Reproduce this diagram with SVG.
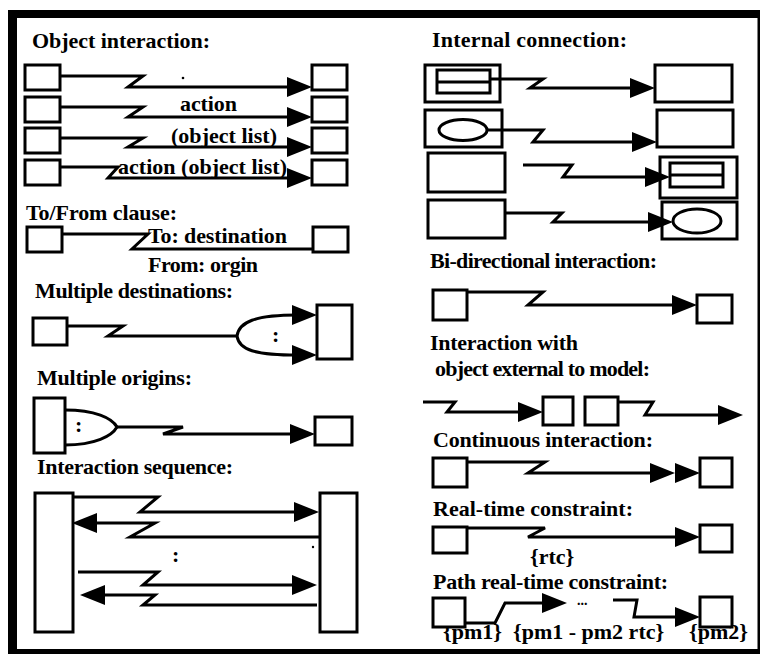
<svg xmlns="http://www.w3.org/2000/svg" width="763" height="659" viewBox="0 0 763 659">
<defs>
<style>
.t{font-family:"Liberation Serif","Times New Roman",serif;font-weight:bold;font-size:22px;fill:#000}
.b{fill:#fff;stroke:#000;stroke-width:3}
.n{fill:none;stroke:#000;stroke-width:3}
.c{fill:none;stroke:#000;stroke-width:3;stroke-linejoin:miter}
.f{fill:#000}
</style>
<path id="ah" d="M-25,-10 L0,0 L-25,10 Z" fill="#000"/>
</defs>
<rect width="763" height="659" fill="#fff"/>
<g id="frame">
<rect x="8" y="10" width="9" height="643" class="f"/>
<rect x="8" y="10" width="752" height="8" class="f"/>
<rect x="757.5" y="10" width="2.5" height="643" class="f"/>
<rect x="8" y="649" width="752" height="5" class="f"/>
</g>
<g id="labels">
<text class="t" x="32" y="48" textLength="178">Object interaction:</text>
<text class="t" x="180" y="111" textLength="57">action</text>
<text class="t" x="171" y="143" textLength="106">(object list)</text>
<text class="t" x="118" y="174" textLength="169">action (object list)</text>
<text class="t" x="26" y="220" textLength="151">To/From clause:</text>
<text class="t" x="148" y="243" textLength="139">To: destination</text>
<text class="t" x="148" y="272" textLength="110">From: orgin</text>
<text class="t" x="35" y="298" textLength="198">Multiple destinations:</text>
<text class="t" x="272" y="342">:</text>
<text class="t" x="37" y="385" textLength="155">Multiple origins:</text>
<text class="t" x="75" y="432">:</text>
<text class="t" x="37" y="474" textLength="196">Interaction sequence:</text>
<text class="t" x="172" y="562">:</text>
<text class="t" x="432" y="47" textLength="195">Internal connection:</text>
<text class="t" x="430" y="268" textLength="227">Bi-directional interaction:</text>
<text class="t" x="430" y="350" textLength="148">Interaction with</text>
<text class="t" x="435" y="376" textLength="215">object external to model:</text>
<text class="t" x="433" y="447" textLength="220">Continuous interaction:</text>
<text class="t" x="433" y="516" textLength="200">Real-time constraint:</text>
<text class="t" x="530" y="564">{rtc}</text>
<text class="t" x="433" y="589" textLength="235">Path real-time constraint:</text>
<text class="t" x="577" y="605" style="font-size:14px">...</text>
<text class="t" x="443" y="639">{pm1}</text>
<text class="t" x="513" y="639">{pm1 - pm2 rtc}</text>
<text class="t" x="748" y="639" text-anchor="end">{pm2}</text>
</g>
<g id="oi-a1"><rect class="b" x="25" y="65" width="35" height="25"/></g>
<g id="oi-b1"><rect class="b" x="312" y="65" width="35" height="25"/></g>
<g id="oi-a2"><rect class="b" x="25" y="97" width="35" height="25"/></g>
<g id="oi-b2"><rect class="b" x="312" y="97" width="35" height="25"/></g>
<g id="oi-a3"><rect class="b" x="25" y="128" width="35" height="25"/></g>
<g id="oi-b3"><rect class="b" x="312" y="128" width="35" height="25"/></g>
<g id="oi-a4"><rect class="b" x="25" y="160" width="35" height="25"/></g>
<g id="oi-b4"><rect class="b" x="312" y="160" width="35" height="25"/></g>
<g id="tf-a"><rect class="b" x="27" y="227" width="35" height="25"/></g>
<g id="tf-b"><rect class="b" x="313" y="227" width="35" height="25"/></g>
<g id="md-a"><rect class="b" x="33" y="318" width="34" height="27"/></g>
<g id="md-b"><rect class="b" x="317" y="305" width="35" height="54"/></g>
<g id="mo-a"><rect class="b" x="34" y="398" width="31" height="55"/></g>
<g id="mo-b"><rect class="b" x="315" y="417" width="37" height="28"/></g>
<g id="is-a"><rect class="b" x="35" y="493" width="38" height="139"/></g>
<g id="is-b"><rect class="b" x="320" y="493" width="37" height="139"/></g>
<g id="ic-a1"><rect class="b" x="425" y="65" width="75" height="37"/><rect class="n" x="437" y="70" width="53" height="23"/><line class="n" x1="437" y1="82" x2="490" y2="82"/></g>
<g id="ic-b1"><rect class="b" x="655" y="65" width="77" height="37"/></g>
<g id="ic-a2"><rect class="b" x="425" y="110" width="77" height="37"/><ellipse class="n" cx="463" cy="130" rx="24" ry="10.5"/></g>
<g id="ic-b2"><rect class="b" x="657" y="110" width="76" height="37"/></g>
<g id="ic-a3"><rect class="b" x="428" y="153" width="77" height="39"/></g>
<g id="ic-b3"><rect class="b" x="660" y="157" width="77" height="41"/><rect class="n" x="670" y="163" width="53" height="24"/><line class="n" x1="670" y1="175" x2="723" y2="175"/></g>
<g id="ic-a4"><rect class="b" x="428" y="200" width="77" height="38"/></g>
<g id="ic-b4"><rect class="b" x="662" y="202" width="75" height="37"/><ellipse class="n" cx="697" cy="221" rx="24" ry="12"/></g>
<g id="bd-a"><rect class="b" x="433" y="290" width="34" height="30"/></g>
<g id="bd-b"><rect class="b" x="697" y="295" width="35" height="28"/></g>
<g id="ex-a"><rect class="b" x="543" y="397" width="30" height="28"/></g>
<g id="ex-b"><rect class="b" x="585" y="397" width="33" height="28"/></g>
<g id="ci-a"><rect class="b" x="433" y="458" width="34" height="29"/></g>
<g id="ci-b"><rect class="b" x="700" y="458" width="32" height="29"/></g>
<g id="rt-a"><rect class="b" x="433" y="527" width="34" height="26"/></g>
<g id="rt-b"><rect class="b" x="700" y="525" width="32" height="27"/></g>
<g id="pr-a"><rect class="b" x="433" y="598" width="32" height="29"/></g>
<g id="pr-b"><rect class="b" x="700" y="597" width="32" height="30"/></g>
<g id="connectors">
<circle cx="183" cy="78" r="1.3" class="f"/>
<circle cx="313" cy="547" r="1.2" class="f"/>
<path class="c" d="M60,76 H143 L128,87 H292"/><use href="#ah" x="312" y="87"/>
<path class="c" d="M60,107 H143 L128,117 H292"/><use href="#ah" x="312" y="117"/>
<path class="c" d="M60,138 H143 L128,147 H292"/><use href="#ah" x="312" y="147"/>
<path class="c" d="M60,167 H118 L108,178 H292"/><use href="#ah" x="312" y="178"/>
<path class="c" d="M62,234 H148 L132,249 H313"/>
<path class="c" d="M67,326 H123 L108,336 H237"/>
<path class="c" d="M237,336 C239,322 255,315 297,315"/><use href="#ah" x="317" y="315"/>
<path class="c" d="M237,336 C239,350 255,355 297,355"/><use href="#ah" x="317" y="355"/>
<path class="c" d="M65,410 C95,410 112,418 117,427 C112,436 95,445 65,445"/>
<path class="c" d="M117,427 H183 L163,434 H295"/><use href="#ah" x="315" y="434"/>
<path class="c" d="M73,497 H158 L140,512 H299"/><use href="#ah" x="319" y="512"/>
<path class="c" d="M320,537 H130 L155,523 H92"/><use href="#ah" transform="translate(72,523) scale(-1,1)"/>
<path class="c" d="M78,572 H158 L143,585 H297"/><use href="#ah" x="317" y="585"/>
<path class="c" d="M317,605 H143 L155,595 H100"/><use href="#ah" transform="translate(80,595) scale(-1,1)"/>
<path class="c" d="M490,79 H543 L530,88 H635"/><use href="#ah" x="655" y="88"/>
<path class="c" d="M487,130 H543 L533,142 H637"/><use href="#ah" x="657" y="142"/>
<path class="c" d="M523,165 H572 L563,177 H650"/><use href="#ah" x="670" y="177"/>
<path class="c" d="M505,213 H562 L553,222 H653"/><use href="#ah" x="673" y="222"/>
<path class="c" d="M467,292 H543 L528,305 H677"/><use href="#ah" x="697" y="305"/>
<path class="c" d="M423,402 H455 L447,412 H523"/><use href="#ah" x="543" y="412"/>
<path class="c" d="M618,402 H653 L645,415 H723"/><use href="#ah" x="743" y="415"/>
<path class="c" d="M467,462 H545 L528,473 H655"/><use href="#ah" x="675" y="473"/><use href="#ah" x="700" y="473"/>
<path class="c" d="M467,528 H545 L528,537 H680"/><use href="#ah" x="700" y="537"/>
<path class="c" d="M465,623 H495 L505,603 H547"/><use href="#ah" x="567" y="603"/>
<path class="c" d="M613,600 H637 L634,617 H680"/><use href="#ah" x="700" y="617"/>
</g>
</svg>
